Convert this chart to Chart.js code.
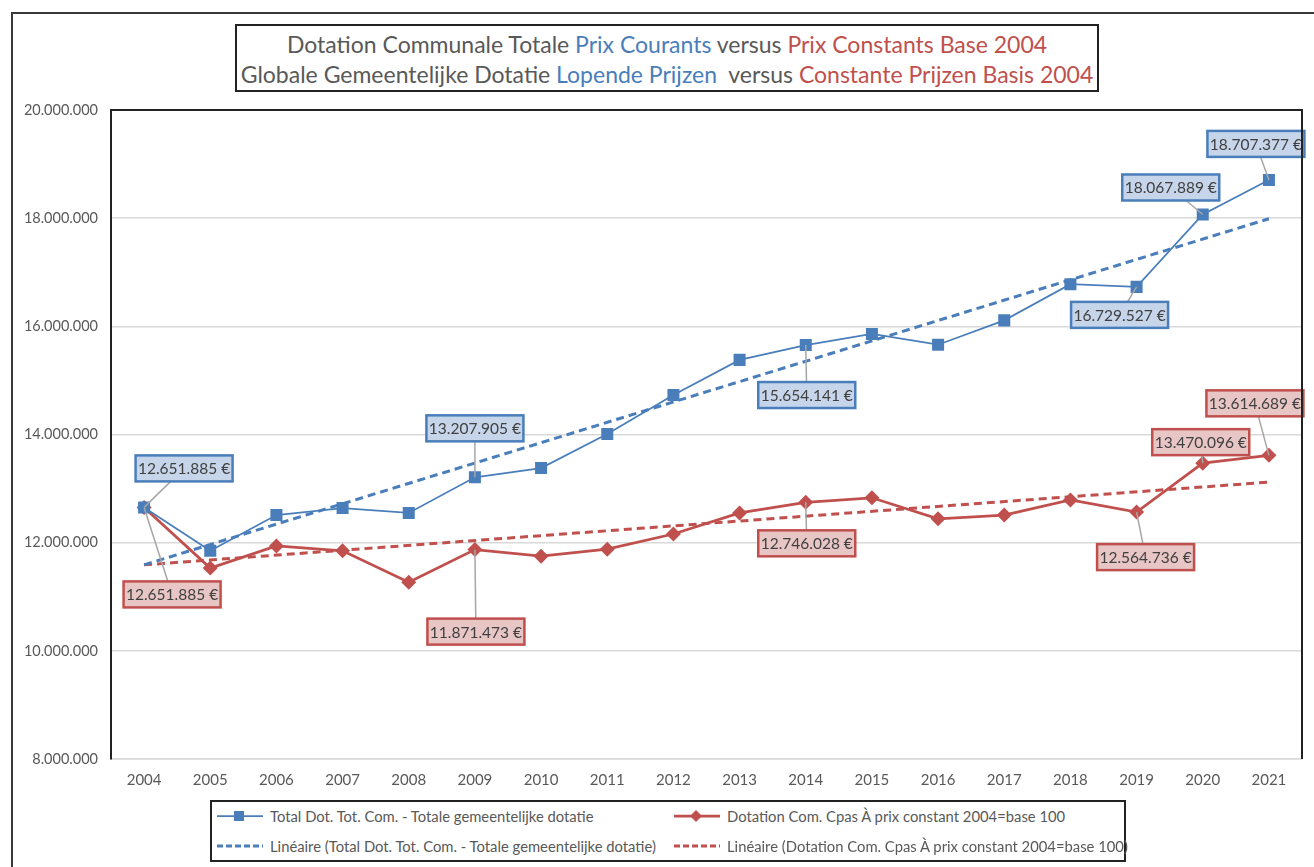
<!DOCTYPE html>
<html>
<head>
<meta charset="utf-8">
<script src="https://cdn.jsdelivr.net/npm/chart.js@4"></script>
<style>
  html, body { margin: 0; padding: 0; background: #fff; overflow: hidden; }
  body { width: 1314px; height: 867px; position: relative; font-family: Lato, "Open Sans", sans-serif; }
  #frame { position: absolute; left: 11px; top: 12px; width: 1340px; height: 900px; border: 2px solid #3a3a3a; box-sizing: border-box; }
  #chart { position: absolute; left: 0; top: 0; }
  #title { position: absolute; left: 235px; top: 24px; width: 864px; height: 68px; box-sizing: border-box;
    border: 2px solid #222; background: #fff; text-align: center; color: #595959; font-size: 23px; line-height: 30px; padding-top: 3px; }
  .b { color: #4a7ebb; } .r { color: #c0504d; }
  #legend { position: absolute; left: 210px; top: 800px; width: 916px; height: 62px; box-sizing: border-box;
    border: 2px solid #222; background: #fff; font-size: 14.8px; color: #595959; }
  .item { position: absolute; height: 30px; line-height: 30px; white-space: nowrap; }
  .item svg { position: absolute; left: 0; top: 0; }
  .item span { position: absolute; left: 54px; top: 0; }
</style>
</head>
<body>
<div id="frame"></div>
<canvas id="chart" width="1314" height="867"></canvas>
<div id="title">
  Dotation Communale Totale <span class="b">Prix Courants</span> versus <span class="r">Prix Constants Base 2004</span><br>
  Globale Gemeentelijke Dotatie <span class="b">Lopende Prijzen</span>&nbsp; versus <span class="r">Constante Prijzen Basis 2004</span>
</div>
<div id="legend"></div>
<script>
// Dotation communale: current prices vs constant prices (base 2004), 2004-2021
const years = ["2004", "2005", "2006", "2007", "2008", "2009", "2010", "2011", "2012",
  "2013", "2014", "2015", "2016", "2017", "2018", "2019", "2020", "2021"];
const courants = [12651885, 11850000, 12510000, 12640000, 12550000, 13207905, 13380000, 14010000, 14730000,
  15380000, 15654141, 15860000, 15660000, 16110000, 16780000, 16729527, 18067889, 18707377];
const constants = [12651885, 11530000, 11940000, 11850000, 11270000, 11871473, 11750000, 11880000, 12160000,
  12550000, 12746028, 12830000, 12440000, 12510000, 12790000, 12564736, 13470096, 13614689];
// trend lines: only the end points, the line spans between them
const trendCourants = [11590000, null, null, null, null, null, null, null, null, null, null, null, null, null, null, null, null, 17990000];
const trendConstants = [11590000, null, null, null, null, null, null, null, null, null, null, null, null, null, null, null, null, 13120000];
const yTicks = [8000000, 10000000, 12000000, 14000000, 16000000, 18000000, 20000000];
const labelled = [0, 5, 10, 15, 16, 17];

const BLUE = "#4a7ebb", RED = "#c0504d", TXT = "#595959", GRID = "#d9d9d9";
const FONT = "Lato, 'Open Sans', sans-serif";
Chart.defaults.font.family = FONT;
Chart.defaults.color = TXT;

const fmt = (v) => String(Math.round(v)).replace(/\B(?=(\d{3})+(?!\d))/g, ".");

// callout box offsets (px from the point to the box centre), per labelled index
const calloutStyle = {
  0: { fill: "#c6d5ea", stroke: BLUE, off: { 0: [40, -39], 5: [0, -49], 10: [1, 50], 15: [-17, 28], 16: [-32, -27], 17: [-13, -36] } },
  1: { fill: "#e8c6c5", stroke: RED, off: { 0: [28, 87], 5: [1, 82], 10: [1, 41], 15: [9, 45], 16: [-2, -21], 17: [-14, -52] } },
};

const callouts = {
  id: "callouts",
  afterDatasetsDraw(chart) {
    const ctx = chart.ctx;
    ctx.save();
    for (const di of [0, 1]) {
      const meta = chart.getDatasetMeta(di);
      const st = calloutStyle[di];
      for (const i of labelled) {
        const p = meta.data[i];
        const [dx, dy] = st.off[i];
        const cx = p.x + dx, cy = p.y + dy, w = 97, h = 26;
        ctx.strokeStyle = "#a6a6a6"; ctx.lineWidth = 1.5;
        ctx.beginPath(); ctx.moveTo(p.x, p.y); ctx.lineTo(cx, cy); ctx.stroke();
        ctx.fillStyle = st.fill; ctx.fillRect(cx - w / 2, cy - h / 2, w, h);
        ctx.strokeStyle = st.stroke; ctx.lineWidth = 2.5;
        ctx.strokeRect(cx - w / 2, cy - h / 2, w, h);
        ctx.fillStyle = "#404040"; ctx.font = "15.5px " + FONT;
        ctx.textAlign = "center"; ctx.textBaseline = "middle";
        ctx.fillText(fmt(chart.data.datasets[di].data[i]) + " €", cx, cy + 1);
      }
    }
    ctx.restore();
  },
};
const plotBorder = {
  id: "plotBorder",
  afterDraw(chart) {
    const { left, right, top, bottom } = chart.chartArea, ctx = chart.ctx;
    ctx.save();
    ctx.strokeStyle = "#222"; ctx.lineWidth = 2;
    ctx.beginPath(); ctx.moveTo(left, top); ctx.lineTo(right, top); ctx.lineTo(right, bottom); ctx.stroke();
    ctx.restore();
  },
};

new Chart(document.getElementById("chart"), {
  type: "line",
  data: {
    labels: years,
    datasets: [
      { label: "Total Dot. Tot. Com. - Totale gemeentelijke dotatie", data: courants, borderColor: BLUE, backgroundColor: BLUE,
        borderWidth: 1.75, pointStyle: "rect", pointRadius: 8.5, pointBorderWidth: 0, pointBackgroundColor: BLUE },
      { label: "Dotation Com. Cpas À prix constant 2004=base 100", data: constants, borderColor: RED, backgroundColor: RED,
        borderWidth: 2.75, pointStyle: "rectRot", pointRadius: 7.5, pointBorderWidth: 0, pointBackgroundColor: RED },
      { label: "Linéaire (Total Dot. Tot. Com. - Totale gemeentelijke dotatie)", data: trendCourants, borderColor: BLUE,
        borderWidth: 3, borderDash: [8, 5], pointRadius: 0, spanGaps: true },
      { label: "Linéaire (Dotation Com. Cpas À prix constant 2004=base 100)", data: trendConstants, borderColor: RED,
        borderWidth: 3, borderDash: [8, 5], pointRadius: 0, spanGaps: true },
    ],
  },
  options: {
    responsive: false, animation: false, devicePixelRatio: 1,
    layout: { padding: { left: 0, top: 110, right: 12, bottom: 0 } },
    plugins: { legend: { display: false }, title: { display: false }, tooltip: { enabled: false } },
    scales: {
      x: {
        offset: true,
        grid: { display: false, drawTicks: false },
        border: { color: GRID, width: 1.5 },
        ticks: { padding: 12, font: { size: 15 }, color: TXT, maxRotation: 0 },
        afterFit: (s) => { s.height = 108; },
      },
      y: {
        min: yTicks[0], max: yTicks[yTicks.length - 1],
        afterBuildTicks: (s) => { s.ticks = yTicks.map((v) => ({ value: v })); },
        grid: { color: GRID, lineWidth: 1.5, drawTicks: false },
        border: { color: "#222", width: 2 },
        ticks: { padding: 13, font: { size: 14.5 }, color: TXT, callback: (v) => fmt(v) },
        afterFit: (s) => { s.width = 111; },
      },
    },
  },
  plugins: [plotBorder, callouts],
});

// legend, two columns like the original
const legendItems = [
  { text: "Total Dot. Tot. Com. - Totale gemeentelijke dotatie", color: BLUE, dash: false, marker: "rect", x: 4, y: 1 },
  { text: "Dotation Com. Cpas À prix constant 2004=base 100", color: RED, dash: false, marker: "diamond", x: 461, y: 1 },
  { text: "Linéaire (Total Dot. Tot. Com. - Totale gemeentelijke dotatie)", color: BLUE, dash: true, x: 4, y: 31 },
  { text: "Linéaire (Dotation Com. Cpas À prix constant 2004=base 100)", color: RED, dash: true, x: 461, y: 31 },
];
document.getElementById("legend").innerHTML = legendItems.map((it) => {
  let m = "";
  if (it.marker === "rect") m = `<rect x="18" y="10" width="10" height="10" fill="${it.color}"/>`;
  if (it.marker === "diamond") m = `<polygon points="23,9 29,15 23,21 17,15" fill="${it.color}"/>`;
  const line = it.dash
    ? `<line x1="1" y1="15" x2="47" y2="15" stroke="${it.color}" stroke-width="3" stroke-dasharray="6,3"/>`
    : `<line x1="1" y1="15" x2="47" y2="15" stroke="${it.color}" stroke-width="${it.marker === "diamond" ? 2.75 : 1.75}"/>`;
  return `<div class="item" style="left:${it.x}px;top:${it.y - 2}px"><svg width="50" height="30">${line}${m}</svg><span>${it.text}</span></div>`;
}).join("");
</script>
</body>
</html>
